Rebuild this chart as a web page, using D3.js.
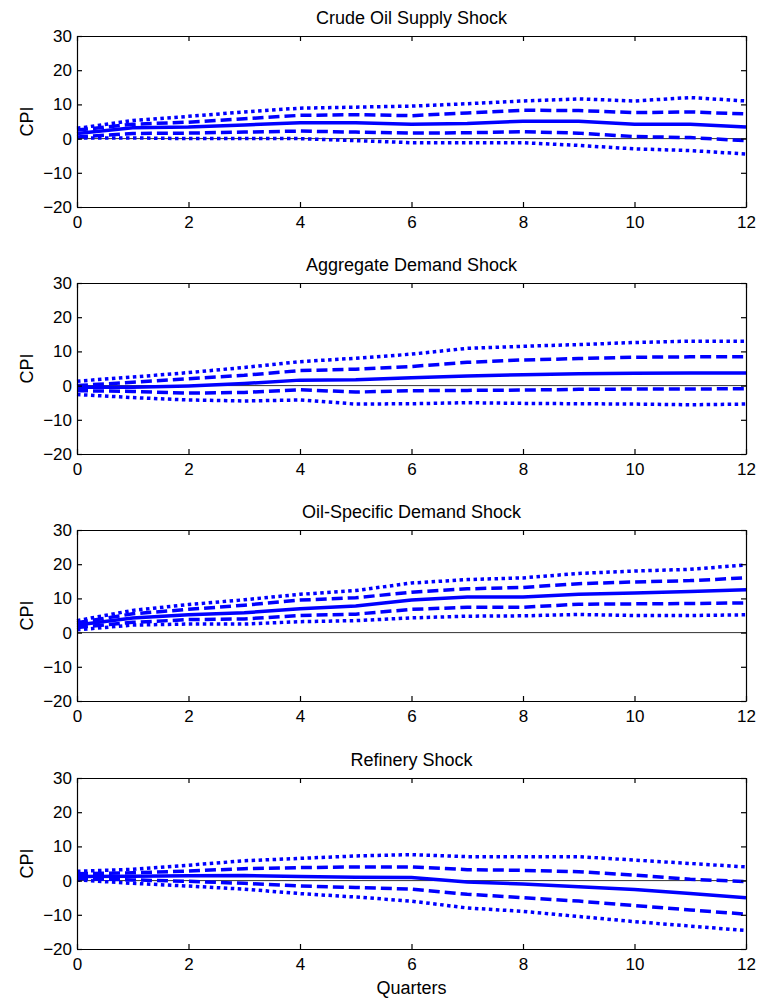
<!DOCTYPE html>
<html>
<head>
<meta charset="utf-8">
<script src="https://cdn.jsdelivr.net/npm/d3@7"></script>
<style>
  body { margin: 0; background: #fff; }
  svg text { font-family: Arial, "Liberation Sans", Helvetica, sans-serif; fill: #000; }
  .axis path, .axis line { stroke: #000; stroke-width: 1.2; }
  .axis text { font-size: 17px; }
</style>
</head>
<body>
<div id="chart"></div>
<script>
// quarters after the shock
var quarters = [0, 1, 2, 3, 4, 5, 6, 7, 8, 9, 10, 11, 12];
var titles = ["Crude Oil Supply Shock", "Aggregate Demand Shock", "Oil-Specific Demand Shock", "Refinery Shock"];
var yTicks = [-20, -10, 0, 10, 20, 30];
var xTicks = [0, 2, 4, 6, 8, 10, 12];

// crude oil supply shock
var supplyMid   = [1.5, 3.2, 3.4, 4.0, 4.6, 4.6, 4.2, 4.4, 5.1, 5.1, 4.2, 4.2, 3.4];
var supplyHi1   = [2.5, 4.2, 4.8, 5.8, 6.8, 7.0, 6.7, 7.5, 8.3, 8.2, 7.6, 7.8, 7.2];
var supplyLo1   = [0.5, 1.5, 1.6, 1.9, 2.2, 1.9, 1.6, 1.7, 2.0, 1.6, 0.6, 0.3, -0.6];
var supplyHi2   = [3.0, 5.3, 6.5, 7.8, 8.9, 9.2, 9.5, 10.2, 11.0, 11.6, 11.0, 12.0, 11.0];
var supplyLo2   = [0.2, 0.2, 0.0, 0.0, 0.0, -0.6, -1.2, -1.2, -1.2, -2.0, -3.0, -3.5, -4.5];

// aggregate demand shock
var demandMid   = [-0.5, -0.5, -0.1, 0.6, 1.6, 1.7, 2.3, 2.8, 3.2, 3.5, 3.6, 3.7, 3.7];
var demandHi1   = [0.0, 1.0, 2.0, 3.0, 4.4, 4.8, 5.6, 6.8, 7.5, 7.9, 8.3, 8.4, 8.4];
var demandLo1   = [-1.5, -1.7, -2.2, -2.0, -1.2, -1.9, -1.5, -1.4, -1.3, -1.1, -1.0, -1.0, -0.9];
var demandHi2   = [1.3, 2.5, 3.8, 5.3, 7.0, 8.0, 9.2, 10.9, 11.5, 12.0, 12.6, 13.0, 13.0];
var demandLo2   = [-2.6, -3.5, -4.2, -4.5, -4.2, -5.4, -5.3, -5.0, -5.2, -5.3, -5.4, -5.6, -5.4];

// oil-specific demand shock
var oilMid      = [2.2, 4.3, 5.2, 5.8, 7.0, 7.8, 9.5, 10.4, 10.4, 11.2, 11.6, 12.0, 12.5];
var oilHi1      = [2.9, 5.5, 6.8, 8.0, 9.5, 10.2, 11.8, 12.8, 13.2, 14.3, 14.8, 15.2, 16.0];
var oilLo1      = [1.5, 3.0, 3.8, 4.0, 5.0, 5.4, 6.8, 7.4, 7.4, 8.3, 8.4, 8.5, 8.7];
var oilHi2      = [3.5, 6.5, 8.2, 9.6, 11.2, 12.3, 14.5, 15.5, 16.0, 17.3, 18.0, 18.5, 19.8];
var oilLo2      = [0.8, 2.2, 2.5, 2.5, 3.2, 3.5, 4.3, 4.8, 4.9, 5.3, 5.0, 5.0, 5.2];

// refinery shock
var refineryMid = [1.2, 1.3, 1.4, 1.5, 1.2, 1.0, 0.9, -0.4, -1.0, -1.8, -2.6, -3.8, -5.0];
var refineryHi1 = [2.0, 2.3, 2.8, 3.5, 3.8, 4.0, 4.0, 3.2, 3.0, 2.6, 1.6, 0.4, -0.3];
var refineryLo1 = [0.6, 0.2, -0.2, -0.8, -1.6, -2.0, -2.5, -4.0, -5.0, -6.0, -7.3, -8.6, -9.8];
var refineryHi2 = [2.7, 3.3, 4.5, 5.8, 6.5, 7.2, 7.6, 7.0, 7.0, 7.0, 6.0, 5.0, 4.0];
var refineryLo2 = [0.2, -0.8, -1.6, -2.5, -3.8, -4.8, -6.0, -8.0, -9.0, -10.5, -12.0, -13.3, -14.6];

var panels = [
  [supplyMid, supplyHi1, supplyLo1, supplyHi2, supplyLo2],
  [demandMid, demandHi1, demandLo1, demandHi2, demandLo2],
  [oilMid, oilHi1, oilLo1, oilHi2, oilLo2],
  [refineryMid, refineryHi1, refineryLo1, refineryHi2, refineryLo2]
];
// solid = response, dashed = inner band, dotted = outer band
var dashes = [null, "11,5", "11,5", "3.5,3.5", "3.5,3.5"];

var w = 770, h = 1000,
    p = {"left": 77, "right": 24},
    ph = 171,
    tops = [36, 283, 530, 778];

var svg = d3.select("#chart").append("svg")
  .attr("width", w)
  .attr("height", h);

svg.append("rect").attr("width", w).attr("height", h).attr("fill", "#fff");

var x = d3.scaleLinear().domain([0, 12]).range([p.left, w - p.right]);
var y = d3.scaleLinear().domain([-20, 30]).range([ph, 0]);

var line = d3.line()
  .x(function(d, i){ return x(quarters[i]) })
  .y(function(d){ return y(d) });

panels.forEach(function(series, k){
  var g = svg.append("g").attr("transform", "translate(0," + tops[k] + ")");

  // zero line
  g.append("line")
    .attr("x1", x(0)).attr("x2", x(12))
    .attr("y1", y(0)).attr("y2", y(0))
    .attr("stroke", "#333")
    .attr("stroke-width", 1);

  g.selectAll(".irf")
    .data(series)
    .enter()
      .append("path")
        .attr("class", "irf")
        .attr("d", line)
        .attr("fill", "none")
        .attr("stroke", "#0000ff")
        .attr("stroke-width", 3.5)
        .attr("stroke-dasharray", function(d, i){ return dashes[i] });

  // box with inward ticks on all four sides
  g.append("g").attr("class", "axis")
    .attr("transform", "translate(" + p.left + ",0)")
    .call(d3.axisLeft(y).tickValues(yTicks).tickSizeInner(-5).tickSizeOuter(0).tickPadding(5));

  g.append("g").attr("class", "axis")
    .attr("transform", "translate(" + (w - p.right) + ",0)")
    .call(d3.axisRight(y).tickValues(yTicks).tickSizeInner(-5).tickSizeOuter(0).tickFormat(""));

  g.append("g").attr("class", "axis")
    .attr("transform", "translate(0," + ph + ")")
    .call(d3.axisBottom(x).tickValues(xTicks).tickSizeInner(-5).tickSizeOuter(0).tickPadding(9));

  g.append("g").attr("class", "axis")
    .call(d3.axisTop(x).tickValues(xTicks).tickSizeInner(-5).tickSizeOuter(0).tickFormat(""));

  g.selectAll(".axis").attr("font-family", null).attr("font-size", null);

  g.append("text")
    .attr("x", (x(0) + x(12)) / 2)
    .attr("y", -12)
    .style("text-anchor", "middle")
    .style("font-size", "18px")
    .text(titles[k]);

  g.append("text")
    .attr("transform", "translate(33," + (ph / 2) + ") rotate(-90)")
    .style("text-anchor", "middle")
    .style("font-size", "18px")
    .text("CPI");
});

svg.append("text")
  .attr("x", (x(0) + x(12)) / 2)
  .attr("y", 994)
  .style("text-anchor", "middle")
  .style("font-size", "18px")
  .text("Quarters");
</script>
</body>
</html>
